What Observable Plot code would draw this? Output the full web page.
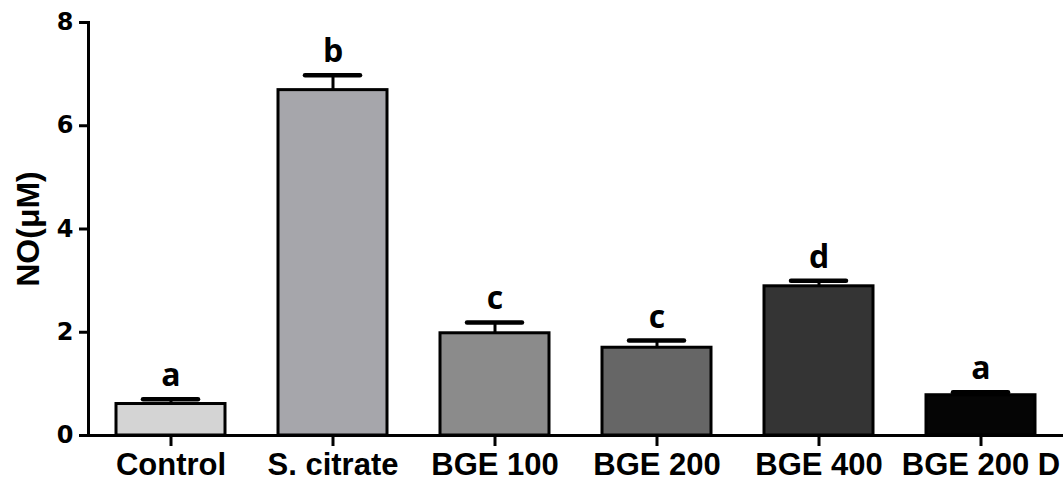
<!DOCTYPE html>
<html><head><meta charset="utf-8">
<script src="https://cdn.jsdelivr.net/npm/d3@7"></script>
<script src="https://cdn.jsdelivr.net/npm/@observablehq/plot@0.6"></script>
<style>body{margin:0;background:#fff} svg{display:block}</style>
</head><body><div id="chart"></div>
<script>
const categories = ["Control", "S. citrate", "BGE 100", "BGE 200", "BGE 400", "BGE 200 D"];
const means = [0.61, 6.69, 1.98, 1.70, 2.89, 0.78];
const errors = [0.09, 0.29, 0.21, 0.14, 0.11, 0.06];
const letters = ["a", "b", "c", "c", "d", "a"];
const yTicks = [0, 2, 4, 6, 8];
const palette = ["#d4d4d4", "#a6a6ab", "#8b8b8b", "#666666", "#343434", "#050505"];

const data = categories.map((c, i) => ({
  category: c, mean: means[i], err: errors[i], top: means[i] + errors[i], letter: letters[i]
}));

const chart = Plot.plot({
  width: 1063, height: 484,
  marginLeft: 88, marginRight: 0, marginTop: 22, marginBottom: 49,
  style: {fontFamily: "'Liberation Sans', Arial, sans-serif", fontWeight: "bold", color: "#000", background: "#fff"},
  x: {domain: categories, paddingInner: 0.327, paddingOuter: 0.17, label: null},
  y: {domain: [0, 8], label: null},
  color: {domain: categories, range: palette},
  marks: [
    Plot.barY(data, {x: "category", y: "mean", fill: "category", stroke: "#000", strokeWidth: 3}),
    Plot.ruleX(data, {x: "category", y1: "mean", y2: "top", stroke: "#000", strokeWidth: 3}),
    Plot.tickY(data, {x: "category", y: "top", stroke: "#000", strokeWidth: 4.5, strokeLinecap: "round", insetLeft: 27, insetRight: 27}),
    Plot.text(data, {x: "category", y: "top", text: "letter", dy: -13, lineAnchor: "bottom", fontSize: 32, fontWeight: "bold", fontFamily: "'Open Sans', sans-serif"}),
    Plot.ruleY([0], {stroke: "#000", strokeWidth: 3}),
    Plot.frame({anchor: "left", stroke: "#000", strokeWidth: 3}),
    Plot.axisY({ticks: yTicks, tickSize: 9, tickPadding: 6, fontSize: 24, fontFamily: "'DejaVu Sans', sans-serif", strokeWidth: 3, label: null}),
    Plot.axisY({ticks: [], label: "NO(μM)", labelAnchor: "center", labelArrow: "none", labelOffset: 72, fontSize: 32}),
    Plot.axisX({tickSize: 11, tickPadding: 6, fontSize: 31, strokeWidth: 3, label: null})
  ]
});
document.getElementById("chart").append(chart);
</script>
</body></html>
